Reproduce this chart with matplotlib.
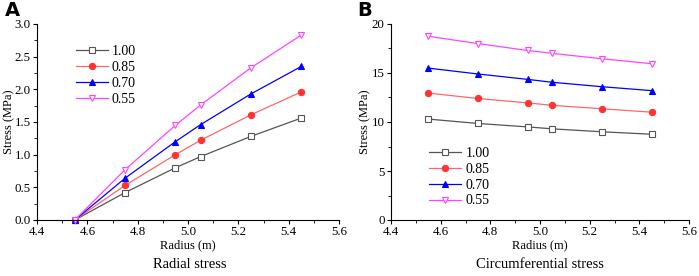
import numpy as np
import matplotlib
matplotlib.use("Agg")
import matplotlib.pyplot as plt
from matplotlib.ticker import MultipleLocator, FormatStrFormatter

plt.rcParams['font.family'] = ['Liberation Serif', 'DejaVu Serif']

radius = [4.55, 4.75, 4.95, 5.05, 5.25, 5.45]
labels = ["1.00", "0.85", "0.70", "0.55"]

radial_100 = [0.0, 0.42, 0.80, 0.97, 1.28, 1.56]
radial_085 = [0.0, 0.53, 1.00, 1.22, 1.61, 1.96]
radial_070 = [0.0, 0.64, 1.20, 1.46, 1.93, 2.35]
radial_055 = [0.0, 0.77, 1.45, 1.76, 2.33, 2.83]

circ_100 = [10.3, 9.85, 9.5, 9.3, 9.0, 8.75]
circ_085 = [12.95, 12.4, 11.95, 11.7, 11.35, 11.0]
circ_070 = [15.5, 14.9, 14.35, 14.05, 13.6, 13.2]
circ_055 = [18.75, 18.0, 17.3, 17.0, 16.45, 15.95]

styles = [
    dict(color='#555555', marker='s', mfc='white', mec='#555555'),
    dict(color='#ff6666', marker='o', mfc='#ff3333', mec='#ff3333'),
    dict(color='#0000ff', marker='^', mfc='#0000ff', mec='#0000ff'),
    dict(color='#ff44ff', marker='v', mfc='white', mec='#ff44ff'),
]

fig = plt.figure(figsize=(6.99, 2.76), dpi=100)
W, H = 699, 276

def make_axes(x0, x1, y0, y1):
    return fig.add_axes([x0 / W, 1 - y1 / H, (x1 - x0) / W, (y1 - y0) / H])

ax1 = make_axes(37, 339, 24, 220)
ax2 = make_axes(391, 689, 24, 220)

def style_axes(ax, ymax, ymaj, yfmt, ylab_x):
    for s in ['top', 'right']:
        ax.spines[s].set_visible(False)
    for s in ['left', 'bottom']:
        ax.spines[s].set_linewidth(0.8)
    ax.set_xlim(4.4, 5.6)
    ax.set_ylim(0, ymax)
    ax.xaxis.set_major_locator(MultipleLocator(0.2))
    ax.xaxis.set_minor_locator(MultipleLocator(0.1))
    ax.yaxis.set_major_locator(MultipleLocator(ymaj))
    ax.yaxis.set_minor_locator(MultipleLocator(ymaj / 2))
    ax.xaxis.set_major_formatter(FormatStrFormatter('%.1f'))
    ax.yaxis.set_major_formatter(FormatStrFormatter(yfmt))
    ax.tick_params(which='major', direction='out', length=3, width=0.8, labelsize=9.3, pad=1.5)
    ax.tick_params(which='minor', direction='out', length=2, width=0.6)
    ax.set_xlabel("Radius (m)", fontsize=9, labelpad=1)
    ax.set_ylabel("Stress (MPa)", fontsize=9)
    ax.yaxis.set_label_coords(ylab_x, 0.5)

for ys, st, lab in zip([radial_100, radial_085, radial_070, radial_055], styles, labels):
    ax1.plot(radius, ys, lw=0.9, ms=4.5, mew=0.8, label=lab, clip_on=False, **st)
for ys, st, lab in zip([circ_100, circ_085, circ_070, circ_055], styles, labels):
    ax2.plot(radius, ys, lw=0.9, ms=4.5, mew=0.8, label=lab, clip_on=False, **st)

style_axes(ax1, 3.0, 0.5, '%.1f', -0.073)
style_axes(ax2, 20, 5, '%d', -0.067)

leg_kw = dict(frameon=False, fontsize=10, handlelength=2.3, handletextpad=0.3,
              labelspacing=0.2, borderaxespad=0)
ax1.legend(loc='upper left', bbox_to_anchor=(0.11, 0.92), **leg_kw)
ax2.legend(loc='upper left', bbox_to_anchor=(0.11, 0.40), **leg_kw)

fig.text(5 / W, 1 - 10 / H, "A", fontsize=14, fontweight='bold', family='DejaVu Sans',
         ha='left', va='center')
fig.text(357 / W, 1 - 10 / H, "B", fontsize=14, fontweight='bold', family='DejaVu Sans',
         ha='left', va='center')
fig.text(190 / W, 1 - 265 / H, "Radial stress", fontsize=10.5, ha='center', va='center')
fig.text(540 / W, 1 - 265 / H, "Circumferential stress", fontsize=10.5, ha='center', va='center')

fig.savefig("out.png", dpi=100)
